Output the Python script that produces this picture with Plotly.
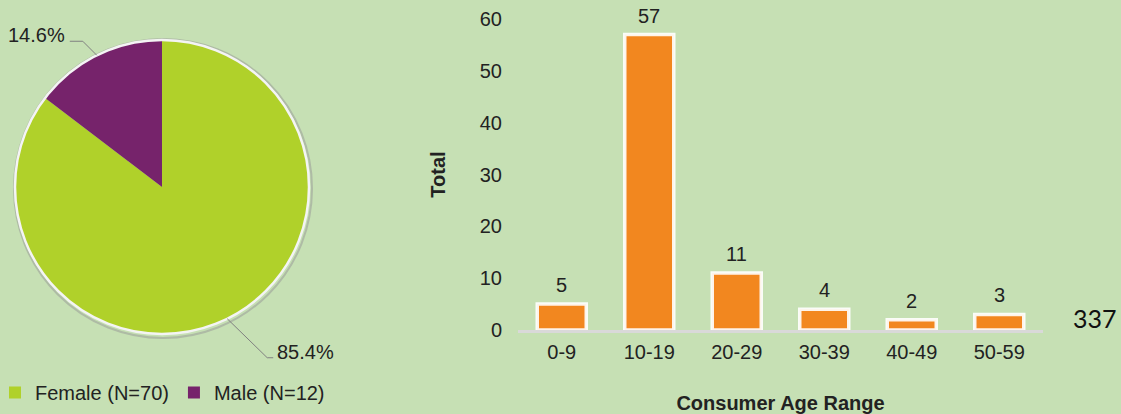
import math
import plotly.graph_objects as go

# ---- data ----
gender_labels = ["Female (N=70)", "Male (N=12)"]
gender_counts = [70, 12]
age_ranges = ["0-9", "10-19", "20-29", "30-39", "40-49", "50-59"]
age_totals = [5, 57, 11, 4, 2, 3]
page_number = "337"

# ---- layout constants ----
W, H = 1121, 414
BG = "#c6e0b4"
FONT = "Liberation Sans, Arial, sans-serif"
FS = 20
pie_cx, pie_cy, pie_r = 162, 187, 147  # pixels


def px_x(x):
    return x / W


def px_y(y):
    return 1 - y / H


fig = go.Figure()

fig.add_trace(go.Pie(
    labels=gender_labels,
    values=gender_counts,
    sort=False,
    direction="clockwise",
    rotation=0,
    textinfo="none",
    hoverinfo="label+percent",
    marker=dict(colors=["#b0d12a", "#76236b"], line=dict(width=0)),
    domain=dict(x=[px_x(pie_cx - pie_r), px_x(pie_cx + pie_r)],
                y=[px_y(pie_cy + pie_r), px_y(pie_cy - pie_r)]),
    showlegend=True,
    automargin=False,
))

fig.add_trace(go.Bar(
    x=age_ranges,
    y=age_totals,
    marker=dict(color="#f2871f", line=dict(color="rgba(255,255,255,0.9)", width=3.5)),
    width=0.56,
    showlegend=False,
    xaxis="x", yaxis="y",
))

# pie rim
shapes = [
    dict(type="circle", xref="paper", yref="paper",
         x0=px_x(pie_cx - pie_r - 1), x1=px_x(pie_cx + pie_r + 3),
         y0=px_y(pie_cy + pie_r + 4), y1=px_y(pie_cy - pie_r - 1),
         line=dict(color="rgba(150,150,150,0.5)", width=2), layer="below"),
    dict(type="circle", xref="paper", yref="paper",
         x0=px_x(pie_cx - pie_r), x1=px_x(pie_cx + pie_r),
         y0=px_y(pie_cy + pie_r), y1=px_y(pie_cy - pie_r),
         line=dict(color="#f4f4f4", width=2.5), layer="above"),
]

# percent labels with leader lines, computed from the data
total = sum(gender_counts)
annotations = []
cum = 0.0
label_offsets = [(40, 39, 6), (-14, -14, -13)]  # (dx to elbow, dy, horizontal tail)
for count, (dx, dy, tail) in zip(gender_counts, label_offsets):
    frac = count / total
    mid = (cum + frac / 2) * 2 * math.pi  # clockwise from top
    cum += frac
    ex = pie_cx + pie_r * math.sin(mid)
    ey = pie_cy - pie_r * math.cos(mid)
    lx, ly = ex + dx, ey + dy
    tx = lx + tail
    shapes.append(dict(
        type="path", xref="paper", yref="paper",
        path=f"M {px_x(ex)} {px_y(ey)} L {px_x(lx)} {px_y(ly)} L {px_x(tx)} {px_y(ly)}",
        line=dict(color="#808080", width=1)))
    text = f"{frac * 100:.1f}%"
    annotations.append(dict(
        x=px_x(tx + (2 if tail > 0 else -3)), y=px_y(ly - 6), xref="paper", yref="paper",
        text=text, showarrow=False,
        xanchor="left" if tail > 0 else "right", yanchor="middle",
        font=dict(size=FS, color="#222222", family=FONT)))

# bar value labels
for cat, val in zip(age_ranges, age_totals):
    annotations.append(dict(
        x=cat, y=val, xref="x", yref="y", text=str(val), showarrow=False,
        yanchor="middle", yshift=19,
        font=dict(size=FS, color="#222222", family=FONT)))

annotations.append(dict(
    x=px_x(1095), y=px_y(318), xref="paper", yref="paper", text=page_number,
    showarrow=False, xanchor="center", yanchor="middle",
    font=dict(size=25, color="#111111", family="Lato, sans-serif")))

fig.update_layout(
    width=W, height=H,
    autosize=False,
    margin=dict(l=0, r=0, t=0, b=0, pad=0, autoexpand=False),
    paper_bgcolor=BG, plot_bgcolor=BG,
    font=dict(family=FONT, size=FS, color="#222222"),
    shapes=shapes,
    annotations=annotations,
    legend=dict(orientation="h", x=px_x(-5), y=px_y(412), xanchor="left", yanchor="bottom",
                font=dict(size=FS, color="#222222", family=FONT),
                bgcolor="rgba(0,0,0,0)", itemwidth=30, tracegroupgap=0),
    xaxis=dict(domain=[px_x(518), px_x(1043)], showgrid=False, zeroline=False,
               showline=True, linecolor="#d9d9d9", linewidth=3,
               ticks="", ticklabelstandoff=2, automargin=False,
               tickfont=dict(size=FS, color="#222222", family=FONT),
               title=dict(text="<b>Consumer Age Range</b>", standoff=34,
                          font=dict(size=FS, color="#222222", family=FONT)),
               anchor="y"),
    yaxis=dict(domain=[px_y(330), px_y(19)], range=[0, 60], dtick=10,
               showgrid=False, zeroline=False, showline=False, ticks="",
               ticklabelstandoff=15, automargin=False,
               tickfont=dict(size=FS, color="#222222", family=FONT),
               title=dict(text="<b>Total</b>", standoff=28,
                          font=dict(size=FS, color="#222222", family=FONT)),
               anchor="x"),
)

fig.write_html("out.html", config={"displayModeBar": False},
               post_script="document.body.style.margin='0';document.body.style.overflow='hidden';")
